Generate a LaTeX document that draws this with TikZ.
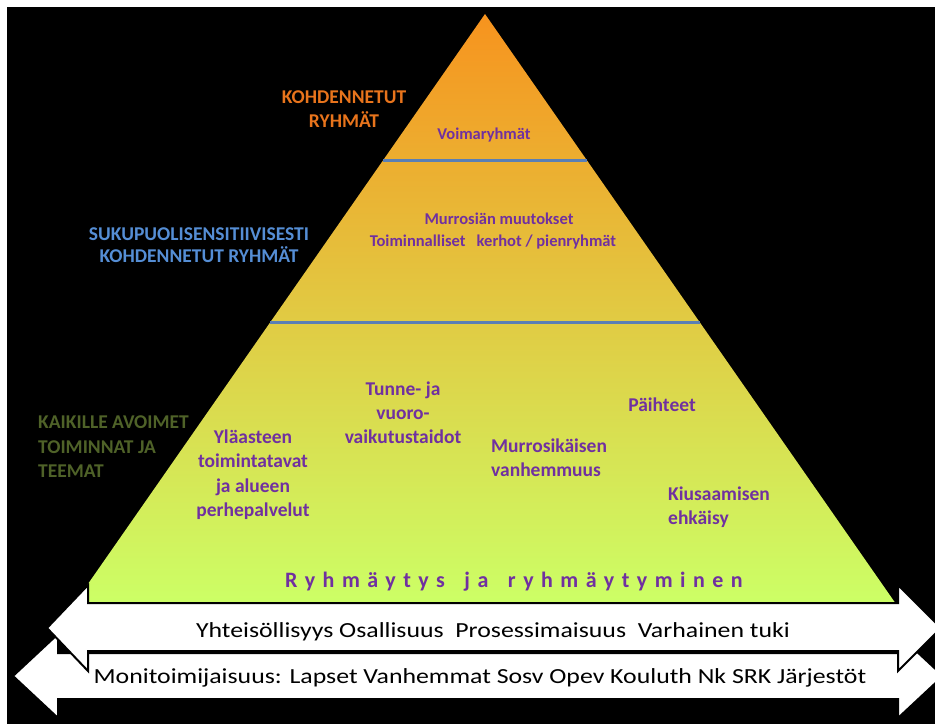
\documentclass[tikz,border=0pt]{standalone}
\usepackage{fontspec}
\setmainfont{Carlito}
\newfontfamily\spacedfont[LetterSpace=34]{Carlito}
\newfontfamily\widefont[FakeStretch=1.2]{Carlito}
\definecolor{lblorange}{HTML}{E8741C}
\definecolor{lblblue}{HTML}{558ED5}
\definecolor{lblgreen}{HTML}{4F6228}
\definecolor{txtpurple}{HTML}{7030A0}
\definecolor{seprule}{HTML}{5A7FB5}
\definecolor{pyrtop}{HTML}{F7931E}
\definecolor{pyrmid}{HTML}{E9CC45}
\definecolor{pyrbot}{HTML}{CCFF66}
\tikzset{
  pyr/.style={font=\fontsize{19.5}{24}\selectfont\bfseries, text=txtpurple, inner sep=0pt, anchor=base},
  pyrsmall/.style={font=\fontsize{16.5}{22}\selectfont\bfseries, text=txtpurple, inner sep=0pt, anchor=base},
  lbl/.style={font=\fontsize{19.5}{24}\selectfont\bfseries, inner sep=0pt, anchor=base},
  arrtxt/.style={font=\widefont\fontsize{21.5}{26}\selectfont, text=black, inner sep=0pt, anchor=base},
  arrowshape/.style={fill=white, draw=black, line width=2pt, line join=miter},
  seprulestyle/.style={draw=seprule, line width=3pt}
}
\begin{document}
\begin{tikzpicture}[x=1pt,y=-1pt]
\useasboundingbox (0,0) rectangle (935,724);
\clip (0,0) rectangle (935,724);
\fill[white] (0,0) rectangle (935,724);
\fill[black] (7,7) rectangle (935,724);

% pyramid
\shade[top color=pyrtop, middle color=pyrmid, bottom color=pyrbot]
  (485,14) -- (896,604) -- (74,604) -- cycle;
\draw[seprulestyle] (383,160) -- (587,160);
\draw[seprulestyle] (270,322) -- (700,322);

% arrows
\path[arrowshape] (13,676) -- (58,634) -- (58,653) -- (898,653) -- (898,634)
  -- (943,676) -- (898,718) -- (898,699) -- (58,699) -- (58,718) -- cycle;
\path[arrowshape] (47,628) -- (88,585) -- (88,603) -- (898,603) -- (898,585)
  -- (941,628) -- (898,671) -- (898,651) -- (88,651) -- (88,671) -- cycle;

% left labels
\node[lbl, text=lblorange] (k1) at (344,103) {KOHDENNETUT};
\node[lbl, text=lblorange] (k2) at (344,127) {RYHMÄT};
\node[lbl, text=lblblue] (s1) at (199,240) {SUKUPUOLISENSITIIVISESTI};
\node[lbl, text=lblblue] (s2) at (199,262) {KOHDENNETUT RYHMÄT};
\node[lbl, text=lblgreen, anchor=base west] (a1) at (38,428) {KAIKILLE AVOIMET};
\node[lbl, text=lblgreen, anchor=base west] (a2) at (38,453) {TOIMINNAT JA};
\node[lbl, text=lblgreen, anchor=base west] (a3) at (38,477) {TEEMAT};

% pyramid texts
\node[pyrsmall] (voima) at (484,139) {Voimaryhmät};
\node[pyrsmall] (murr) at (499,224) {Murrosiän muutokset};
\node[pyrsmall] (toim) at (493,246) {Toiminnalliset\ \ \ kerhot / pienryhmät};

\node[pyr] (y1) at (253,443) {Yläasteen};
\node[pyr] (y2) at (253,467) {toimintatavat};
\node[pyr] (y3) at (253,492) {ja alueen};
\node[pyr] (y4) at (253,516) {perhepalvelut};

\node[pyr] (t1) at (403,395) {Tunne- ja};
\node[pyr] (t2) at (403,419) {vuoro-};
\node[pyr] (t3) at (403,443) {vaikutustaidot};

\node[pyr, anchor=base west] (m1) at (491,452) {Murrosikäisen};
\node[pyr, anchor=base west] (m2) at (491,476) {vanhemmuus};

\node[pyr] (paih) at (662,411) {Päihteet};

\node[pyr, anchor=base west] (ki1) at (668,500) {Kiusaamisen};
\node[pyr, anchor=base west] (ki2) at (668,524) {ehkäisy};

\node[font=\spacedfont\fontsize{22}{26}\selectfont\bfseries, text=txtpurple, inner sep=0pt, anchor=base west] (ryhm) at (285,587) {Ryhmäytys\hspace{7pt} ja\hspace{7pt} ryhmäytyminen};

% arrow texts
\node[arrtxt] (yht) at (493,637) {Yhteisöllisyys Osallisuus\ \ Prosessimaisuus\ \ Varhainen tuki};
\node[arrtxt] (moni) at (480,683) {Monitoimijaisuus: Lapset Vanhemmat Sosv Opev Kouluth Nk SRK Järjestöt};
\end{tikzpicture}
\end{document}
